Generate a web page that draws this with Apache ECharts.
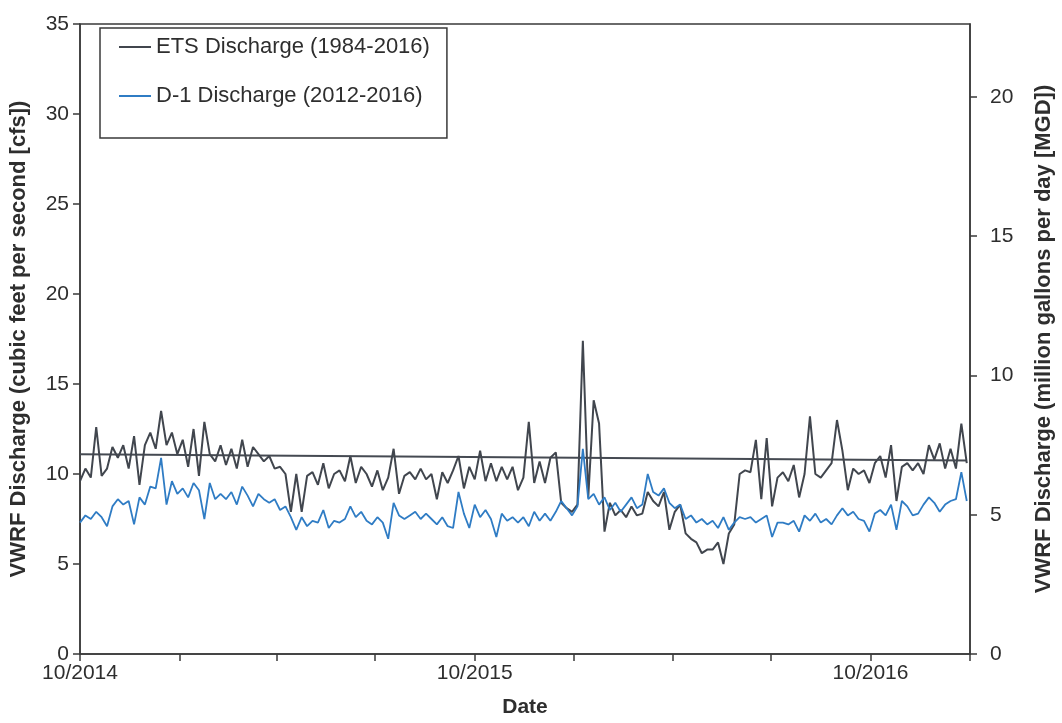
<!DOCTYPE html>
<html><head><meta charset="utf-8">
<script src="https://cdn.jsdelivr.net/npm/echarts@6/dist/echarts.min.js"></script>
<style>html,body{margin:0;padding:0;background:#fff}#c{width:1062px;height:723px}</style>
</head><body><div id="c"></div>
<script>
// ---- data (cfs), one reading every 5 days from 2014-10-01 ----
const startDate = [2014, 9, 1];   // year, monthIndex, day (UTC)
const stepDays = 5;
const etsCfs = [
  9.6,10.3,9.8,12.6,9.9,10.3,11.5,10.9,11.6,10.3,
  12.1,9.4,11.6,12.3,11.4,13.5,11.6,12.3,11.1,11.9,
  10.4,12.5,9.9,12.9,11.1,10.7,11.6,10.5,11.4,10.3,
  11.9,10.4,11.5,11.1,10.7,11.0,10.3,10.4,10.0,7.9,
  10.0,7.9,9.9,10.1,9.4,10.6,9.2,10.0,10.2,9.6,
  11.0,9.5,10.4,10.0,9.3,10.2,9.1,9.8,11.4,8.9,
  9.9,10.1,9.7,10.3,9.7,10.0,8.6,10.1,9.5,10.2,
  11.0,9.2,10.4,9.7,11.3,9.6,10.6,9.6,10.4,9.7,
  10.4,9.1,9.8,12.9,9.5,10.7,9.5,10.9,11.2,8.4,
  8.1,7.9,8.3,17.4,8.7,14.1,12.8,6.8,8.4,7.7,
  8.0,7.6,8.2,7.7,7.8,9.0,8.5,8.2,9.0,6.9,
  7.9,8.3,6.7,6.4,6.2,5.6,5.8,5.8,6.2,5.0,
  6.7,7.2,10.0,10.2,10.1,11.9,8.6,12.0,8.2,9.8,
  10.1,9.6,10.5,8.7,10.0,13.2,10.0,9.8,10.2,10.6,
  13.0,11.3,9.1,10.3,10.0,10.2,9.5,10.6,11.0,9.8,
  11.6,8.5,10.4,10.6,10.2,10.6,10.0,11.6,10.8,11.7,
  10.3,11.4,10.3,12.8,10.6
];
const d1Cfs = [
  7.3,7.7,7.5,7.9,7.6,7.1,8.2,8.6,8.3,8.5,
  7.2,8.7,8.3,9.3,9.2,10.9,8.3,9.6,8.9,9.2,
  8.7,9.5,9.1,7.5,9.5,8.6,8.9,8.6,9.0,8.3,
  9.3,8.8,8.2,8.9,8.6,8.4,8.6,8.0,8.2,7.6,
  6.9,7.6,7.1,7.4,7.3,8.0,7.0,7.4,7.3,7.5,
  8.2,7.6,7.9,7.4,7.2,7.6,7.3,6.4,8.4,7.7,
  7.5,7.7,7.9,7.5,7.8,7.5,7.2,7.6,7.1,7.0,
  9.0,7.8,7.0,8.3,7.6,8.0,7.5,6.5,7.8,7.4,
  7.6,7.3,7.6,7.1,7.9,7.4,7.8,7.4,7.9,8.5,
  8.1,7.7,8.2,11.4,8.6,8.9,8.3,8.7,8.0,8.4,
  7.9,8.3,8.7,8.1,8.3,10.0,9.0,8.8,9.2,8.4,
  8.1,8.3,7.5,7.7,7.3,7.5,7.2,7.4,7.0,7.6,
  6.9,7.3,7.6,7.5,7.6,7.3,7.5,7.7,6.5,7.3,
  7.3,7.2,7.4,6.8,7.7,7.4,7.8,7.3,7.5,7.2,
  7.7,8.1,7.7,7.9,7.5,7.4,6.8,7.8,8.0,7.7,
  8.3,6.9,8.5,8.2,7.7,7.8,8.3,8.7,8.4,7.9,
  8.3,8.5,8.6,10.1,8.5
];
const trendCfs = [11.1, 10.75];           // long-term ETS reference line (start, end)
const xTickDates = ['2014-10','2015-01','2015-04','2015-07','2015-10','2016-01','2016-04','2016-07','2016-10','2017-01'];
const xLabelDates = ['2014-10','2015-10','2016-10'];
const cfsToMgd = 0.646317;
const seriesNames = ['ETS Discharge (1984-2016)', 'D-1 Discharge (2012-2016)'];

// ---- build ----
const DAY = 86400000;
const t0 = Date.UTC(startDate[0], startDate[1], startDate[2]);
const ym = s => { const [y, m] = s.split('-').map(Number); return Date.UTC(y, m - 1, 1); };
const toPairs = arr => arr.map((v, i) => [t0 + i * stepDays * DAY, v]);
const tEnd = t0 + (etsCfs.length - 1) * stepDays * DAY;

const FONT = 'Liberation Sans, Arial, sans-serif';
const AX = '#3a3a3a';
const TXT = '#2e2e2e';

const chart = echarts.init(document.getElementById('c'), null, {renderer: 'canvas'});
chart.setOption({
  backgroundColor: '#ffffff',
  animation: false,
  textStyle: {fontFamily: FONT},
  grid: {left: 80, right: 92, top: 24, bottom: 69, show: true, borderColor: AX, borderWidth: 1.5,
         containLabel: false, outerBoundsMode: 'none'},
  legend: {
    data: seriesNames,
    orient: 'vertical',
    left: 100, top: 28,
    padding: [8, 17, 31, 19],
    itemGap: 27,
    icon: 'rect', itemWidth: 32, itemHeight: 2,
    borderColor: AX, borderWidth: 1.5,
    textStyle: {fontSize: 22, color: TXT, fontFamily: FONT}
  },
  xAxis: {
    type: 'value',
    min: ym('2014-10'), max: ym('2017-01'),
    name: 'Date', nameLocation: 'middle', nameGap: 43,
    nameTextStyle: {fontSize: 21, fontWeight: 'bold', color: TXT, fontFamily: FONT},
    axisLine: {show: true, lineStyle: {color: AX, width: 1.5}},
    axisTick: {show: true, length: 7, lineStyle: {color: AX, width: 1.5}, customValues: xTickDates.map(ym)},
    axisLabel: {
      fontSize: 21, color: TXT, margin: 9, fontFamily: FONT,
      customValues: xLabelDates.map(ym),
      formatter: v => { const d = new Date(v); return (d.getUTCMonth() + 1) + '/' + d.getUTCFullYear(); }
    },
    splitLine: {show: false}
  },
  yAxis: [
    {
      type: 'value', min: 0, max: 35, interval: 5, position: 'left',
      name: 'VWRF Discharge (cubic feet per second [cfs])', nameLocation: 'middle', nameGap: 50, nameRotate: 90,
      nameTextStyle: {fontSize: 22, fontWeight: 'bold', color: TXT, fontFamily: FONT},
      axisLine: {show: true, lineStyle: {color: AX, width: 1.5}},
      axisTick: {show: true, length: 7, lineStyle: {color: AX, width: 1.5}},
      axisLabel: {fontSize: 21, color: TXT, margin: 11, fontFamily: FONT},
      splitLine: {show: false}
    },
    {
      type: 'value', min: 0, max: 35 * cfsToMgd, interval: 5, position: 'right',
      name: 'VWRF Discharge (million gallons per day [MGD])', nameLocation: 'middle', nameGap: 63, nameRotate: 90,
      nameTextStyle: {fontSize: 22, fontWeight: 'bold', color: TXT, fontFamily: FONT},
      axisLine: {show: true, lineStyle: {color: AX, width: 1.5}},
      axisTick: {show: true, length: 7, lineStyle: {color: AX, width: 1.5}},
      axisLabel: {fontSize: 21, color: TXT, margin: 20, fontFamily: FONT, showMaxLabel: false},
      splitLine: {show: false}
    }
  ],
  series: [
    {
      name: 'reference', type: 'line', yAxisIndex: 0, showSymbol: false, silent: true,
      data: [[t0, trendCfs[0]], [tEnd, trendCfs[1]]],
      lineStyle: {color: '#454a52', width: 2}, z: 1
    },
    {
      name: seriesNames[0], type: 'line', yAxisIndex: 0, showSymbol: false,
      data: toPairs(etsCfs),
      itemStyle: {color: '#41464e'},
      lineStyle: {color: '#41464e', width: 2}, z: 2
    },
    {
      name: seriesNames[1], type: 'line', yAxisIndex: 0, showSymbol: false,
      data: toPairs(d1Cfs),
      itemStyle: {color: '#2f7cc4'},
      lineStyle: {color: '#2f7cc4', width: 1.8}, z: 3
    }
  ]
});
</script></body></html>
